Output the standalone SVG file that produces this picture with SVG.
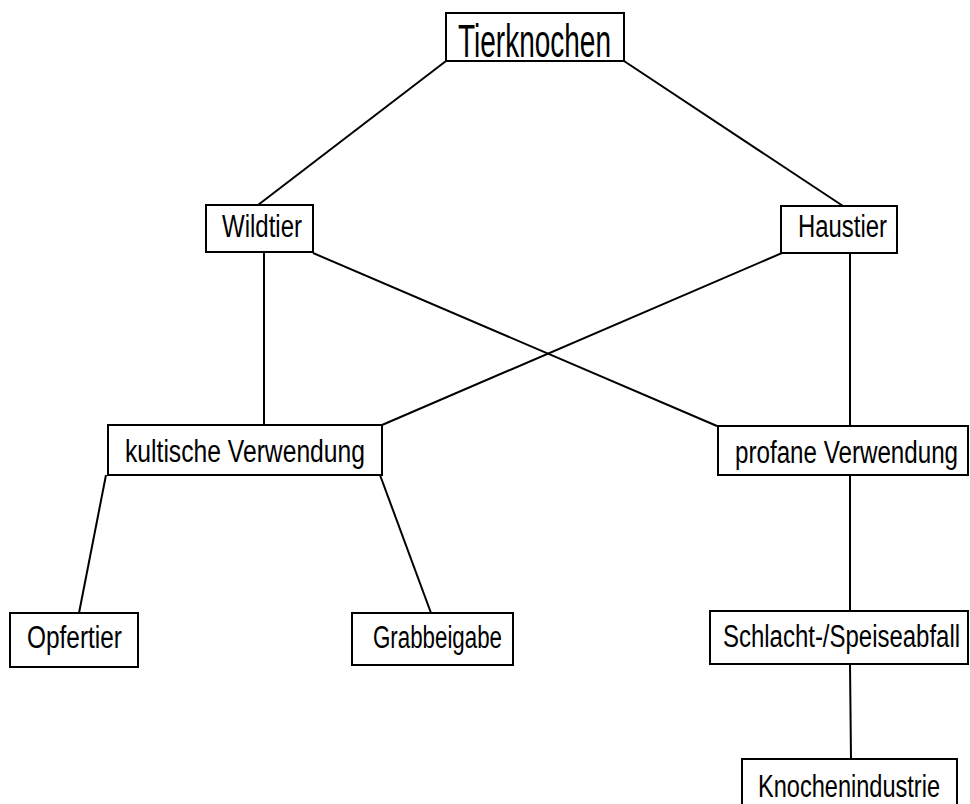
<svg xmlns="http://www.w3.org/2000/svg" width="970" height="804" viewBox="0 0 970 804">
<style>
rect{fill:#fff;stroke:#000;stroke-width:2}
line{stroke:#000;stroke-width:2}
text{font-family:"Liberation Sans",Arial,sans-serif;font-size:31px;fill:#000}
</style>
<rect x="0" y="0" width="970" height="804" style="stroke:none"/>
<g id="connectors">
<line x1="446" y1="61" x2="258" y2="205"/>
<line x1="624" y1="61" x2="843" y2="206"/>
<line x1="264" y1="252" x2="264" y2="425"/>
<line x1="313" y1="253" x2="717" y2="426"/>
<line x1="782" y1="253" x2="382" y2="425"/>
<line x1="850" y1="253" x2="850" y2="426"/>
<line x1="106" y1="475" x2="79" y2="613"/>
<line x1="380" y1="475" x2="431" y2="613"/>
<line x1="850" y1="475" x2="850" y2="611"/>
<line x1="850" y1="664" x2="851" y2="759"/>
</g>
<g id="tierknochen"><rect x="446" y="13" width="178" height="48"/><text x="458" y="57" style="font-size:46px" textLength="153" lengthAdjust="spacingAndGlyphs">Tierknochen</text></g>
<g id="wildtier"><rect x="206" y="205" width="107" height="47"/><text x="222" y="237" textLength="80" lengthAdjust="spacingAndGlyphs">Wildtier</text></g>
<g id="haustier"><rect x="781" y="206" width="116" height="47"/><text x="798" y="237" textLength="89" lengthAdjust="spacingAndGlyphs">Haustier</text></g>
<g id="kultische"><rect x="108" y="425" width="274" height="50"/><text x="125" y="462" textLength="240" lengthAdjust="spacingAndGlyphs">kultische Verwendung</text></g>
<g id="profane"><rect x="718" y="426" width="250" height="49"/><text transform="translate(735,463) scale(0.775,1)" x="0" y="0" textLength="287.8" lengthAdjust="spacingAndGlyphs">profane Verwendung</text></g>
<g id="opfertier"><rect x="10" y="613" width="128" height="54"/><text x="27" y="648" textLength="95" lengthAdjust="spacingAndGlyphs">Opfertier</text></g>
<g id="grabbeigabe"><rect x="352" y="613" width="161" height="52"/><text x="373" y="648" textLength="129" lengthAdjust="spacingAndGlyphs">Grabbeigabe</text></g>
<g id="schlacht"><rect x="710" y="611" width="258" height="53"/><text transform="translate(723,647) scale(0.773,1)" x="0" y="0" textLength="306.7" lengthAdjust="spacingAndGlyphs">Schlacht-/Speiseabfall</text></g>
<g id="knochenindustrie"><rect x="742" y="759" width="215" height="50"/><text transform="translate(758,797) scale(0.76,1)" x="0" y="0" textLength="239.5" lengthAdjust="spacingAndGlyphs">Knochenindustrie</text></g>
</svg>
